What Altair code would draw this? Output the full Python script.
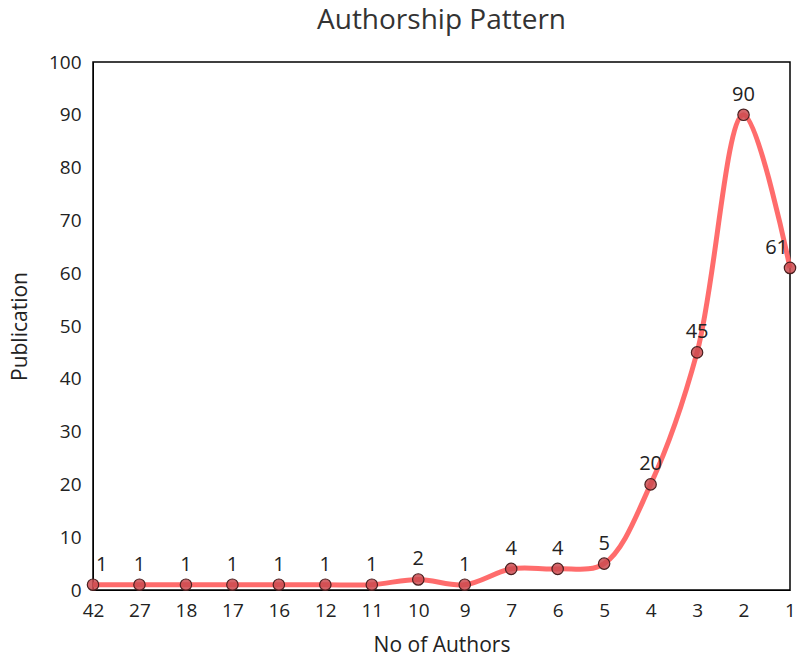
import altair as alt
import pandas as pd

authors = ["42", "27", "18", "17", "16", "12", "11", "10", "9", "7", "6", "5", "4", "3", "2", "1"]
publications = [1, 1, 1, 1, 1, 1, 1, 2, 1, 4, 4, 5, 20, 45, 90, 61]

df = pd.DataFrame({"authors": authors, "pub": publications, "order": list(range(len(authors)))})

FONT = "Open Sans"

x = alt.X("authors:N", sort=authors, scale=alt.Scale(type="point", padding=0),
          axis=alt.Axis(title="No of Authors", labelAngle=0, ticks=False, labelPadding=11,
                        labelFontSize=19, titleFontSize=21, titleFontWeight="normal",
                        titlePadding=14, domainColor="#000", labelColor="#222", titleColor="#222",
                        labelFont=FONT, titleFont=FONT))
y = alt.Y("pub:Q", scale=alt.Scale(domain=[0, 100], nice=False),
          axis=alt.Axis(title="Publication", values=list(range(0, 101, 10)), ticks=False, grid=False,
                        labelPadding=12, labelFontSize=19, titleFontSize=21, titleFontWeight="normal",
                        titlePadding=18, domainColor="#000", labelColor="#222", titleColor="#222",
                        labelFont=FONT, titleFont=FONT))

base = alt.Chart(df).encode(x=x, y=y)

line = base.mark_line(interpolate="catmull-rom", color="#ff6464", strokeWidth=5, opacity=0.95).encode(
    order="order:Q")
pts = base.mark_point(filled=True, size=130, fill="#cc4b50", fillOpacity=0.85, stroke="#4a2020",
                      strokeWidth=1.2, opacity=1)

first, last = authors[0], authors[-1]
txt_mid = base.transform_filter(
    (alt.datum.authors != first) & (alt.datum.authors != last)
).mark_text(dy=-20, fontSize=20, font=FONT, color="#222").encode(text="pub:Q")
txt_first = base.transform_filter(alt.datum.authors == first).mark_text(
    dy=-20, dx=3, align="left", fontSize=20, font=FONT, color="#222").encode(text="pub:Q")
txt_last = base.transform_filter(alt.datum.authors == last).mark_text(
    dy=-20, dx=-2, align="right", fontSize=20, font=FONT, color="#222").encode(text="pub:Q")

chart = (line + pts + txt_mid + txt_first + txt_last).properties(
    width=697, height=528,
    title=alt.TitleParams("Authorship Pattern", fontSize=28, font=FONT, fontWeight="normal",
                          color="#333", anchor="middle", offset=18),
    autosize=alt.AutoSizeParams(type="none"),
    padding={"left": 93, "top": 62, "right": 7, "bottom": 74},
).configure_view(stroke="#000", strokeWidth=1.5).configure_axis(grid=False)

chart.save("out.html", embed_options={"renderer": "svg", "actions": False})
